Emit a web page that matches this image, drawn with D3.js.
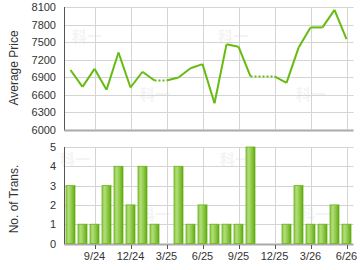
<!DOCTYPE html>
<html>
<head>
<meta charset="utf-8">
<script src="https://cdn.jsdelivr.net/npm/d3@7"></script>
<style>
  body { margin: 0; background: #fff; }
  text { font-family: "Liberation Sans", Arial, sans-serif; }
</style>
</head>
<body>
<div id="chart"></div>
<script>
// months from 7/24 to 6/26
const months = ['7/24','8/24','9/24','10/24','11/24','12/24','1/25','2/25','3/25','4/25','5/25','6/25',
  '7/25','8/25','9/25','10/25','11/25','12/25','1/26','2/26','3/26','4/26','5/26','6/26'];
// average price, null = no transaction that month
const prices = [7020, 6730, 7040, 6680, 7320, 6720, 6990, 6840, null, 6890, 7050, 7120,
  6450, 7460, 7420, 6910, null, null, 6800, 7400, 7750, 7750, 8050, 7550];
const trans = [3, 1, 1, 3, 4, 2, 4, 1, 0, 4, 1, 2, 1, 1, 1, 5, 0, 0, 1, 3, 1, 1, 2, 1];
const priceTicks = [6000, 6300, 6600, 6900, 7200, 7500, 7800, 8100];
const transTicks = [0, 1, 2, 3, 4, 5];
const xLabels = ['9/24', '12/24', '3/25', '6/25', '9/25', '12/25', '3/26', '6/26'];

const W = 360, H = 270;
const left = 64.5, right = 352.5;

const svg = d3.select('#chart').append('svg')
  .attr('width', W).attr('height', H);

const defs = svg.append('defs');
const grad = defs.append('linearGradient').attr('id', 'barGrad')
  .attr('x1', '0%').attr('x2', '100%').attr('y1', '0%').attr('y2', '0%');
grad.append('stop').attr('offset', '0%').attr('stop-color', '#8cc84a');
grad.append('stop').attr('offset', '30%').attr('stop-color', '#b2dd7a');
grad.append('stop').attr('offset', '70%').attr('stop-color', '#86c43c');
grad.append('stop').attr('offset', '100%').attr('stop-color', '#5aa512');

const x = d3.scaleBand().domain(months).range([left, right]);
const cx = d => x(d) + x.bandwidth() / 2;

const yP = d3.scaleLinear().domain([6000, 8100]).range([129.5, 7]);
const yT = d3.scaleLinear().domain([0, 5]).range([243.5, 147]);

// watermark
const wm = [[72, 42], [140, 100], [218, 42], [296, 100], [60, 165], [140, 220], [220, 165], [300, 220]];
svg.append('g').selectAll('text').data(wm).enter().append('text')
  .attr('x', d => d[0]).attr('y', d => d[1])
  .attr('fill', '#f4f4f4')
  .style('font-family', '"Noto Sans CJK SC", sans-serif')
  .style('font-size', '15px').style('font-weight', 'bold')
  .text('科一');

function grid(y, ticks) {
  const g = svg.append('g');
  g.selectAll('.h').data(ticks).enter().append('line')
    .attr('x1', left).attr('x2', right + 1)
    .attr('y1', d => Math.round(y(d)) + 0.5).attr('y2', d => Math.round(y(d)) + 0.5)
    .attr('stroke', '#d4d4d4');
  g.selectAll('.v').data(xLabels).enter().append('line')
    .attr('x1', d => Math.round(cx(d)) + 0.5).attr('x2', d => Math.round(cx(d)) + 0.5)
    .attr('y1', y.range()[1]).attr('y2', y.range()[0])
    .attr('stroke', '#d4d4d4');
  g.append('line')
    .attr('x1', left).attr('x2', left).attr('y1', y.range()[1]).attr('y2', y.range()[0] + 1)
    .attr('stroke', '#555');
  g.append('line')
    .attr('x1', left).attr('x2', right + 1).attr('y1', y.range()[0] + 1).attr('y2', y.range()[0] + 1)
    .attr('stroke', '#aaa').attr('stroke-width', 2);
  g.selectAll('.lab').data(ticks).enter().append('text')
    .attr('x', 56).attr('y', d => y(d) + 4)
    .attr('text-anchor', 'end').attr('fill', '#333').style('font-size', '11px')
    .text(d => d);
}
grid(yP, priceTicks);
grid(yT, transTicks);

// bars
svg.append('g').selectAll('rect').data(months).enter()
  .filter((d, i) => trans[i] > 0)
  .append('rect')
  .attr('x', d => cx(d) - 4.5)
  .attr('width', 9)
  .attr('y', d => yT(trans[months.indexOf(d)]))
  .attr('height', d => yT(0) - yT(trans[months.indexOf(d)]))
  .attr('fill', 'url(#barGrad)')
  .attr('stroke', '#6cb41c').attr('stroke-width', 0.8);

// x ticks and labels
const xa = svg.append('g');
xa.selectAll('line').data(xLabels).enter().append('line')
  .attr('x1', d => Math.round(cx(d)) + 0.5).attr('x2', d => Math.round(cx(d)) + 0.5)
  .attr('y1', 245).attr('y2', 249).attr('stroke', '#555');
xa.selectAll('text').data(xLabels).enter().append('text')
  .attr('x', cx).attr('y', 260)
  .attr('text-anchor', 'middle').attr('fill', '#333').style('font-size', '11px')
  .text(d => d);

// price line: solid between known months, dotted across gaps (last price carried on)
const pts = [];
let last = null;
prices.forEach((p, i) => {
  const known = p !== null;
  if (known) last = p;
  pts.push({ m: months[i], v: last, known: known });
});
const line = d3.line().x(d => cx(d.m)).y(d => yP(d.v));
for (let i = 1; i < pts.length; i++) {
  const a = pts[i - 1], b = pts[i];
  if (a.v === null) continue;
  svg.append('path').datum([a, b])
    .attr('d', line)
    .attr('fill', 'none')
    .attr('stroke', '#66bb11')
    .attr('stroke-width', 2)
    .attr('stroke-linejoin', 'round')
    .attr('stroke-dasharray', b.known ? null : '2,2');
}

// axis titles
svg.append('text')
  .attr('transform', 'translate(18,68) rotate(-90)')
  .attr('text-anchor', 'middle').attr('fill', '#333').style('font-size', '12px')
  .text('Average Price');
svg.append('text')
  .attr('transform', 'translate(18,199) rotate(-90)')
  .attr('text-anchor', 'middle').attr('fill', '#333').style('font-size', '12px')
  .text('No. of Trans.');
</script>
</body>
</html>
